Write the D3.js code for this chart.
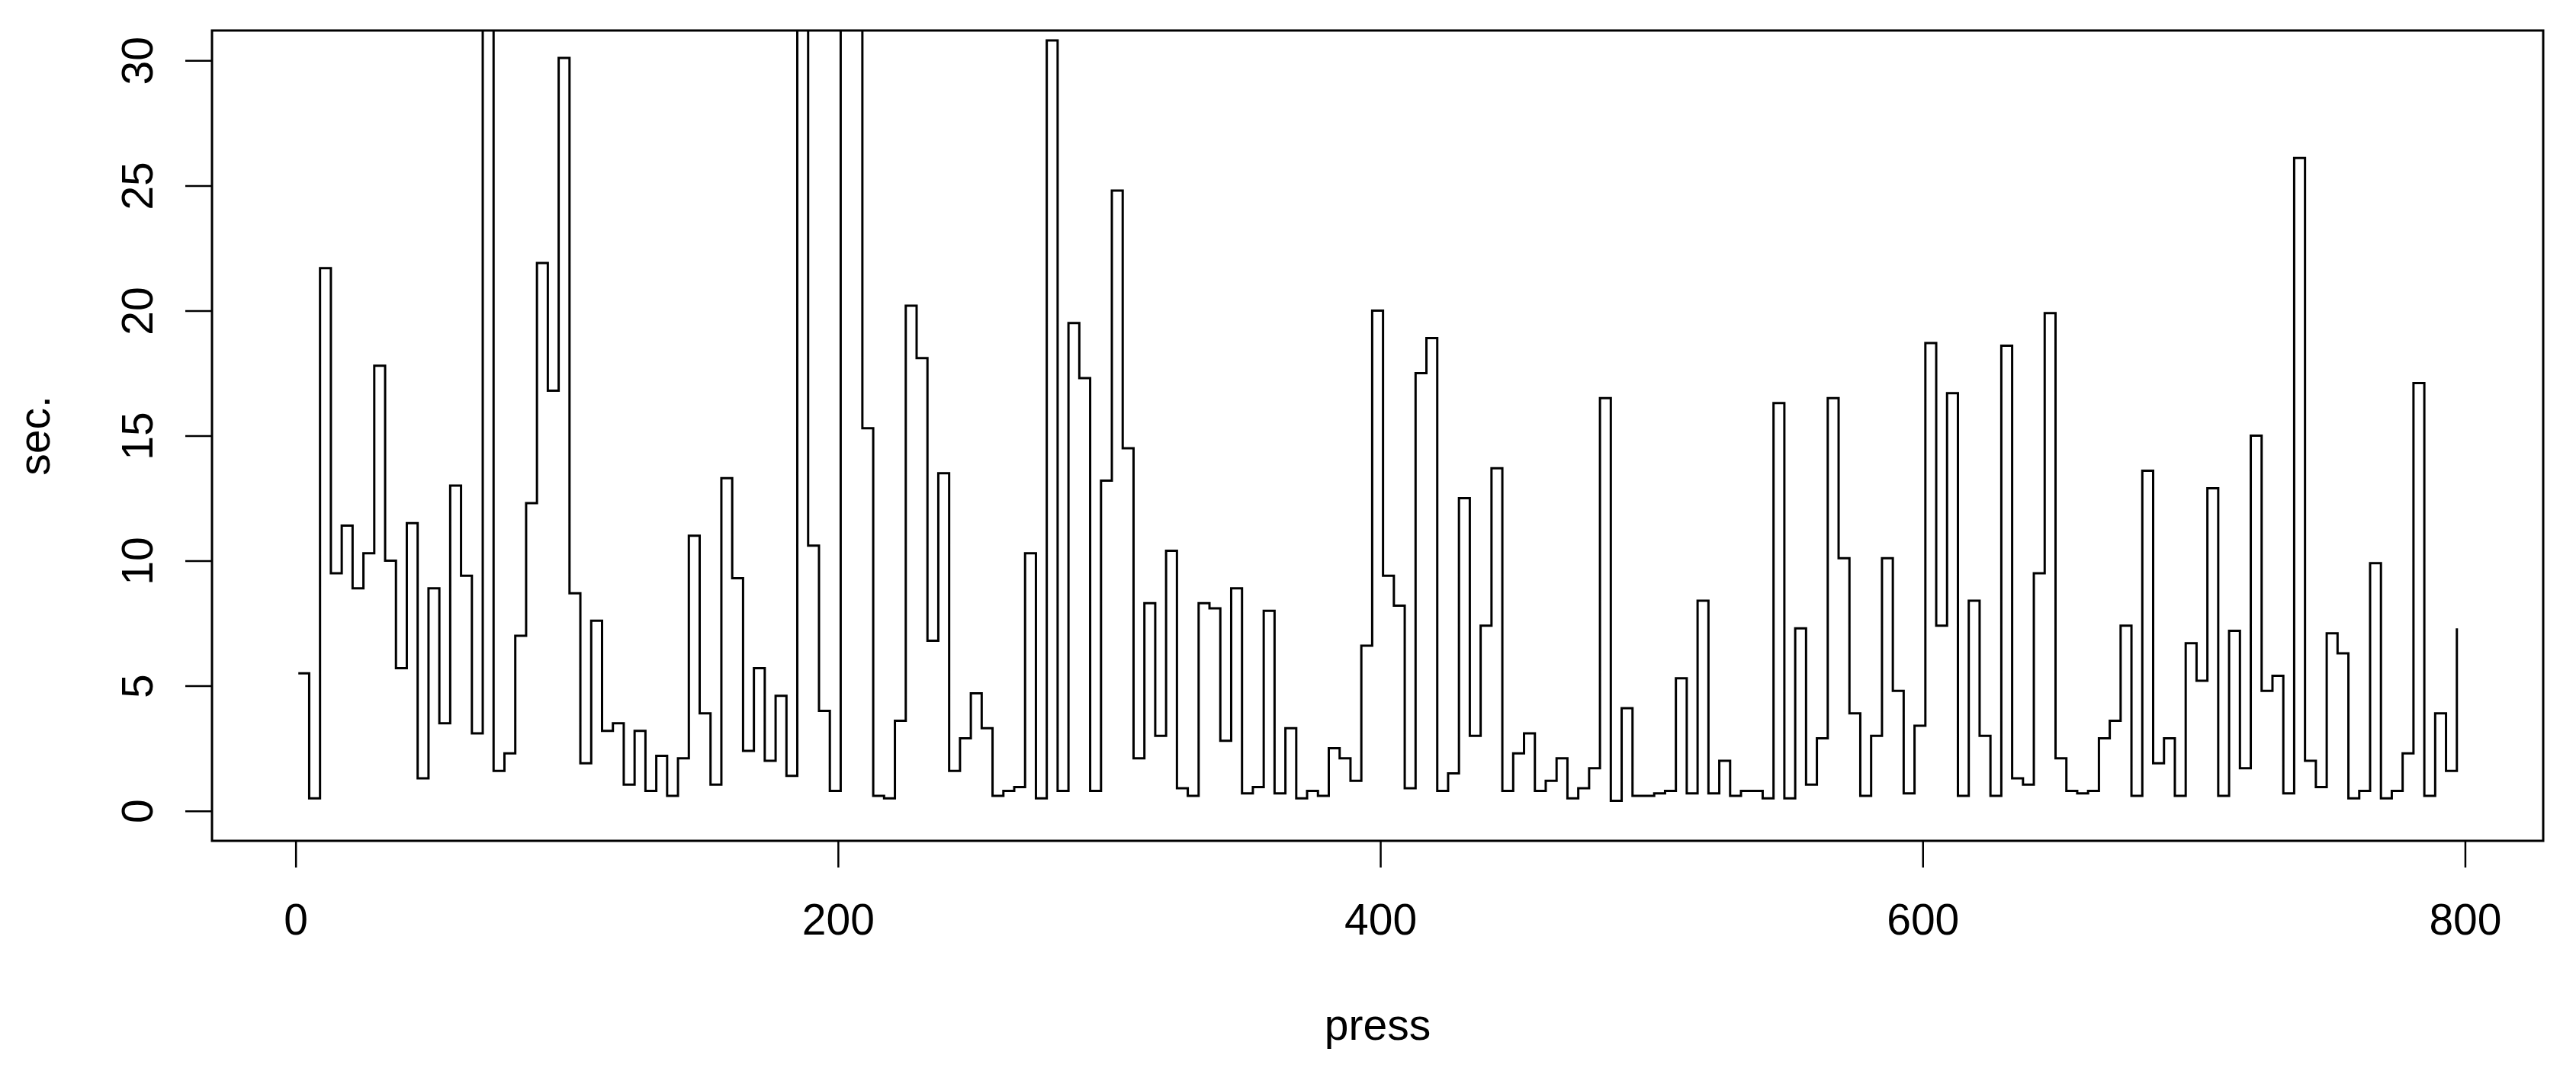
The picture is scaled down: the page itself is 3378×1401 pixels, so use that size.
<!DOCTYPE html>
<html lang="en">
<head>
<meta charset="UTF-8">
<title>sec. per press</title>
<script src="https://d3js.org/d3.v7.min.js"></script>
<style>
  body { margin: 0; background: #fff; }
  text { font-family: Arial, "Liberation Sans", sans-serif; font-size: 57px; fill: #000; }
</style>
</head>
<body>
<div id="chart"></div>
<script>
// press index: one reading every 4 presses, 1..797
var press = d3.range(1, 798, 4);

// seconds per reading (values above 31 run off the top of the plot)
var secs = [
  5.5, 0.5, 21.7, 9.5, 11.4, 8.9, 10.3, 17.8, 10.0, 5.7,
  11.5, 1.3, 8.9, 3.5, 13.0, 9.4, 3.1, 40, 1.6, 2.3,
  7.0, 12.3, 21.9, 16.8, 30.1, 8.7, 1.9, 7.6, 3.2, 3.5,
  1.05, 3.2, 0.8, 2.2, 0.6, 2.1, 11.0, 3.9, 1.05, 13.3,
  9.3, 2.4, 5.7, 2.0, 4.6, 1.4, 40, 10.6, 4.0, 0.8,
  40, 40, 15.3, 0.6, 0.5, 3.6, 20.2, 18.1, 6.8, 13.5,
  1.6, 2.9, 4.7, 3.3, 0.6, 0.8, 0.95, 10.3, 0.5, 30.8,
  0.8, 19.5, 17.3, 0.8, 13.2, 24.8, 14.5, 2.1, 8.3, 3.0,
  10.4, 0.9, 0.6, 8.3, 8.1, 2.8, 8.9, 0.7, 0.95, 8.0,
  0.7, 3.3, 0.5, 0.8, 0.6, 2.5, 2.1, 1.2, 6.6, 20.0,
  9.4, 8.2, 0.9, 17.5, 18.9, 0.8, 1.5, 12.5, 3.0, 7.4,
  13.7, 0.8, 2.3, 3.1, 0.8, 1.2, 2.1, 0.5, 0.9, 1.7,
  16.5, 0.4, 4.1, 0.6, 0.6, 0.7, 0.8, 5.3, 0.7, 8.4,
  0.7, 2.0, 0.6, 0.8, 0.8, 0.5, 16.3, 0.5, 7.3, 1.05,
  2.9, 16.5, 10.1, 3.9, 0.6, 3.0, 10.1, 4.8, 0.7, 3.4,
  18.7, 7.4, 16.7, 0.6, 8.4, 3.0, 0.6, 18.6, 1.3, 1.05,
  9.5, 19.9, 2.1, 0.8, 0.7, 0.8, 2.9, 3.6, 7.4, 0.6,
  13.6, 1.9, 2.9, 0.6, 6.7, 5.2, 12.9, 0.6, 7.2, 1.7,
  15.0, 4.8, 5.4, 0.7, 26.1, 2.0, 0.95, 7.1, 6.3, 0.5,
  0.8, 9.9, 0.5, 0.8, 2.3, 17.1, 0.6, 3.9, 1.6, 7.3
];

var xTicks = [0, 200, 400, 600, 800];
var yTicks = [0, 5, 10, 15, 20, 25, 30];
var xLabel = "press", yLabel = "sec.";

var W = 3378, H = 1401;
var margin = {top: 40, right: 43, bottom: 298, left: 278},
    width = W - margin.left - margin.right,
    height = H - margin.top - margin.bottom;

var svg = d3.select("#chart").append("svg")
    .attr("width", W).attr("height", H);
var g = svg.append("g")
    .attr("transform", "translate(" + margin.left + "," + margin.top + ")");

// R-style 4% padding around the data range
var xPad = 0.04 * (d3.max(press) - d3.min(press));
var x = d3.scaleLinear()
    .domain([d3.min(press) - xPad, d3.max(press) + xPad])
    .range([0, width]);
var y = d3.scaleLinear()
    .domain([0 - 0.04 * 30, 30 + 0.04 * 30])
    .range([height, 0]);

g.append("clipPath").attr("id", "plotclip")
  .append("rect").attr("width", width).attr("height", height);

var pts = press.map((p, i) => [p, secs[i]]);
var line = d3.line()
    .x(d => x(d[0]))
    .y(d => y(d[1]))
    .curve(d3.curveStepAfter);

g.append("path")
    .datum(pts)
    .attr("clip-path", "url(#plotclip)")
    .attr("fill", "none")
    .attr("stroke", "#000")
    .attr("stroke-width", 3)
    .attr("d", line);

// x axis
var xa = g.append("g")
    .attr("transform", "translate(0," + height + ")")
    .call(d3.axisBottom(x).tickValues(xTicks).tickSize(35).tickPadding(48).tickFormat(d3.format("d")));
xa.select(".domain").remove();
xa.selectAll("line").attr("stroke", "#000").attr("stroke-width", 2.5);
xa.selectAll("text").attr("font-size", null).attr("font-family", null);

// y axis, labels parallel to the axis
var ya = g.append("g")
    .call(d3.axisLeft(y).tickValues(yTicks).tickSize(35).tickFormat(d3.format("d")));
ya.select(".domain").remove();
ya.selectAll("line").attr("stroke", "#000").attr("stroke-width", 2.5);
ya.selectAll("text")
    .attr("x", null).attr("dy", null)
    .attr("text-anchor", "middle")
    .attr("font-size", null).attr("font-family", null)
    .attr("transform", "translate(-78,0) rotate(-90)");

// box
g.append("rect")
    .attr("width", width).attr("height", height)
    .attr("fill", "none").attr("stroke", "#000").attr("stroke-width", 3);

// axis titles
svg.append("text")
    .attr("x", margin.left + width / 2).attr("y", 1364)
    .attr("text-anchor", "middle")
    .text(xLabel);
svg.append("text")
    .attr("transform", "translate(65," + (margin.top + height / 2) + ") rotate(-90)")
    .attr("text-anchor", "middle")
    .text(yLabel);
</script>
</body>
</html>
